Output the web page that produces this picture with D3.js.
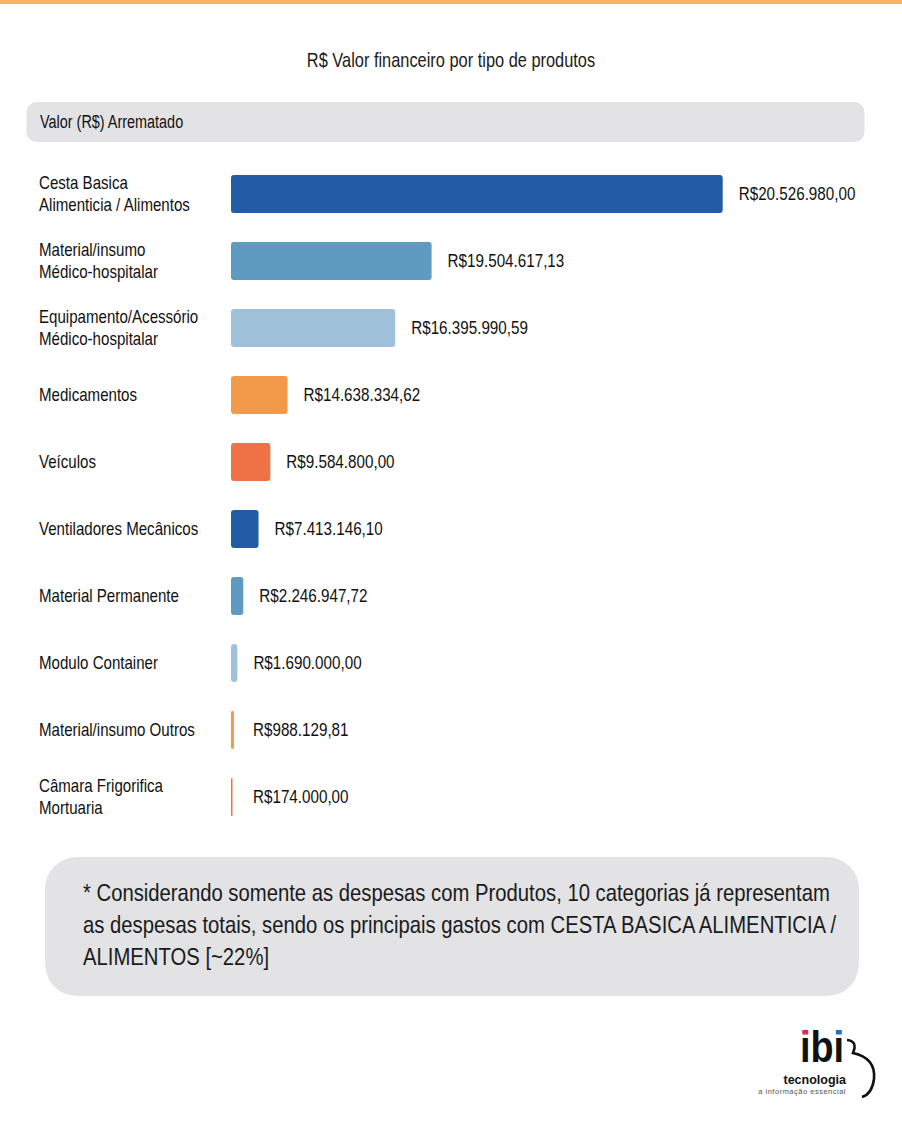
<!DOCTYPE html>
<html>
<head>
<meta charset="utf-8">
<script src="https://cdn.jsdelivr.net/npm/d3@7"></script>
<style>
  html, body { margin: 0; padding: 0; background: #ffffff; }
  svg { display: block; }
  text { font-family: "Liberation Sans", Arial, sans-serif; fill: #111; }
</style>
</head>
<body>
<div id="chart"></div>
<script>
// ---------- data ----------
const title = "R$ Valor financeiro por tipo de produtos";
const seriesName = "Valor (R$) Arrematado";
const categories = [
  ["Cesta Basica", "Alimenticia / Alimentos"],
  ["Material/insumo", "Médico-hospitalar"],
  ["Equipamento/Acessório", "Médico-hospitalar"],
  ["Medicamentos"],
  ["Veículos"],
  ["Ventiladores Mecânicos"],
  ["Material Permanente"],
  ["Modulo Container"],
  ["Material/insumo Outros"],
  ["Câmara Frigorifica", "Mortuaria"]
];
// values printed next to each bar (R$)
const values = [20526980.00, 19504617.13, 16395990.59, 14638334.62, 9584800.00,
                7413146.10, 2246947.72, 1690000.00, 988129.81, 174000.00];
// bar lengths as drawn in the reference (not proportional to the values), % of longest bar
const barLengths = [100, 40.8, 33.4, 11.5, 8.0, 5.6, 2.5, 1.3, 0.6, 0.3];
const barColors = ["#215ca5", "#5f9bc1", "#9fc2da", "#f39a4a", "#ef7246",
                   "#215ca5", "#5f9bc1", "#9fc2da", "#f39a4a", "#ef7246"];
const noteLines = [
  "* Considerando somente as despesas com Produtos, 10 categorias já representam",
  "as despesas totais, sendo os principais gastos com CESTA BASICA ALIMENTICIA /",
  "ALIMENTOS [~22%]"
];

// ---------- drawing ----------
const W = 902, H = 1122;
const SX = 0.82; // horizontal condensing to mimic a condensed sans face
const svg = d3.select("#chart").append("svg").attr("width", W).attr("height", H);

function ctext(parent, x, y, str, size, sx, anchor) {
  return parent.append("text")
    .attr("transform", `translate(${x},${y}) scale(${sx},1)`)
    .attr("text-anchor", anchor || "start")
    .style("font-size", size + "px")
    .text(str);
}

// top orange rule
svg.append("rect").attr("x", 0).attr("y", 0).attr("width", W).attr("height", 4).attr("fill", "#fbb062");

// title
ctext(svg, 451, 67, title, 20, SX, "middle").style("fill", "#1a1a1a");

// series header box
svg.append("rect").attr("x", 26.5).attr("y", 102).attr("width", 838).attr("height", 40)
  .attr("rx", 10).attr("fill", "#e3e3e5");
ctext(svg, 40, 127.5, seriesName, 17.6, SX);

const rows = categories.map((c, i) => ({ key: c.join(" "), lines: c, value: values[i], len: barLengths[i], color: barColors[i] }));

const x = d3.scaleLinear().domain([0, 100]).range([231, 722.7]);
const y = d3.scaleBand().domain(rows.map(d => d.key)).range([160.5, 830.5])
  .paddingInner(0.433).paddingOuter(0.216);

const brl = d3.formatLocale({ decimal: ",", thousands: ".", grouping: [3], currency: ["R$", ""] });
const fmt = brl.format("$,.2f");

const row = svg.append("g").selectAll("g.row").data(rows).join("g").attr("class", "row");

row.append("rect")
  .attr("x", x(0))
  .attr("y", d => y(d.key))
  .attr("width", d => Math.max(1.5, x(d.len) - x(0)))
  .attr("height", y.bandwidth())
  .attr("rx", d => Math.min(3, (x(d.len) - x(0)) / 2))
  .attr("fill", d => d.color);

// category labels
row.each(function(d) {
  const cy = y(d.key) + y.bandwidth() / 2;
  const n = d.lines.length;
  const t = d3.select(this).append("text")
    .attr("transform", `translate(39,0) scale(${SX},1)`)
    .style("font-size", "18.4px");
  d.lines.forEach((ln, j) => {
    t.append("tspan").attr("x", 0).attr("y", cy + 6 + (j - (n - 1) / 2) * 22.5).text(ln);
  });
});

// value labels
row.each(function(d) {
  const cy = y(d.key) + y.bandwidth() / 2;
  ctext(d3.select(this), Math.max(253, x(d.len) + 16), cy + 6, fmt(d.value), 18, 0.845);
});

// note box
svg.append("rect").attr("x", 45).attr("y", 857).attr("width", 814).attr("height", 139)
  .attr("rx", 32).attr("fill", "#e3e3e5");
const note = svg.append("g");
noteLines.forEach((ln, i) => ctext(note, 83, 901 + i * 32, ln, 24, 0.845).style("fill", "#1a1a1a"));

// logo
const logo = svg.append("g");
const ibiG = logo.append("g").attr("transform", "translate(800,1062) scale(0.86,1)");
const ibi = ibiG.append("text").attr("x", 0).attr("y", 0)
  .style("font-size", "44px").style("font-weight", "700")
  .style("fill", "#111").text("ıbı");
const dotColors = ["#e2264c", null, "#1e73c8"];
dotColors.forEach((c, i) => {
  if (!c) return;
  const ext = ibi.node().getExtentOfChar(i);
  ibiG.append("rect").attr("x", ext.x + ext.width / 2 - 3.4).attr("y", -32)
    .attr("width", 6.8).attr("height", 4.5).attr("fill", c);
});
logo.append("path").attr("d", "M847,1040 Q858,1041 853,1053 Q876,1058 874,1079 Q872,1094 862,1097")
  .attr("fill", "none").attr("stroke", "#111").attr("stroke-width", 2.6);
logo.append("text").attr("x", 846).attr("y", 1083.5).attr("text-anchor", "end")
  .style("font-size", "12.5px").style("font-weight", "700")
  .text("tecnologia");
logo.append("text").attr("x", 846).attr("y", 1094).attr("text-anchor", "end")
  .style("font-size", "7.5px").style("fill", "#555")
  .style("letter-spacing", "0.5px")
  .text("a informação essencial");
</script>
</body>
</html>
